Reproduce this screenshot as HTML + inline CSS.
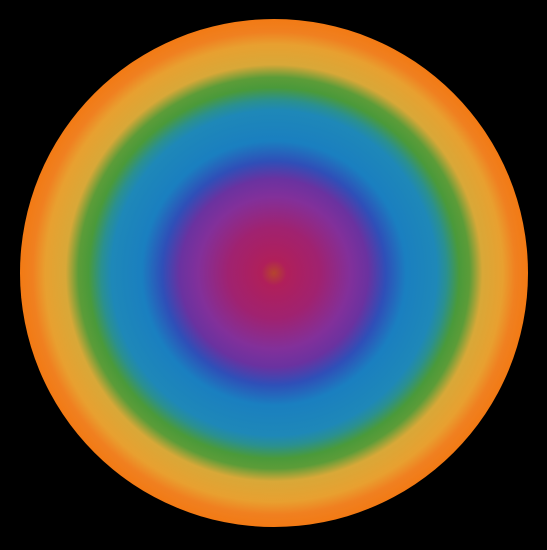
<!DOCTYPE html>
<html><head><meta charset="utf-8"><style>html,body{margin:0;padding:0;background:#000;width:547px;height:550px;overflow:hidden}</style></head>
<body>
<svg id="chart" width="547" height="550" xmlns="http://www.w3.org/2000/svg">
<rect width="547" height="550" fill="#000"/>
</svg>
<script>
const levelOffsets = [0, 0.05, 0.18, 0.3, 0.37, 0.44, 0.52, 0.64, 0.68, 0.73, 0.77, 0.82, 0.9, 0.95, 1];
const levelColors = ["#b5442e","#b01f5a","#a02270","#82309a","#6a32a0","#2f4fb8","#1a7fc0","#1e88b8","#2a9090","#4a9a3a","#5c9c38","#d8a838","#e8a030","#f08020","#f27a14"];
const cx = 274, cy = 273, outerR = 254;
const ns = "http://www.w3.org/2000/svg";
const svg = document.getElementById('chart');
const defs = document.createElementNS(ns,'defs');
const g = document.createElementNS(ns,'radialGradient');
g.setAttribute('id','rg');
levelOffsets.forEach((o,i)=>{
  const s=document.createElementNS(ns,'stop');
  s.setAttribute('offset',o);
  s.setAttribute('stop-color',levelColors[i]);
  g.appendChild(s);
});
defs.appendChild(g);svg.appendChild(defs);
const c=document.createElementNS(ns,'circle');


c.setAttribute('cx',cx);c.setAttribute('cy',cy);c.setAttribute('r',outerR);
c.setAttribute('fill','url(#rg)');
svg.appendChild(c);
</script>
</body></html>
